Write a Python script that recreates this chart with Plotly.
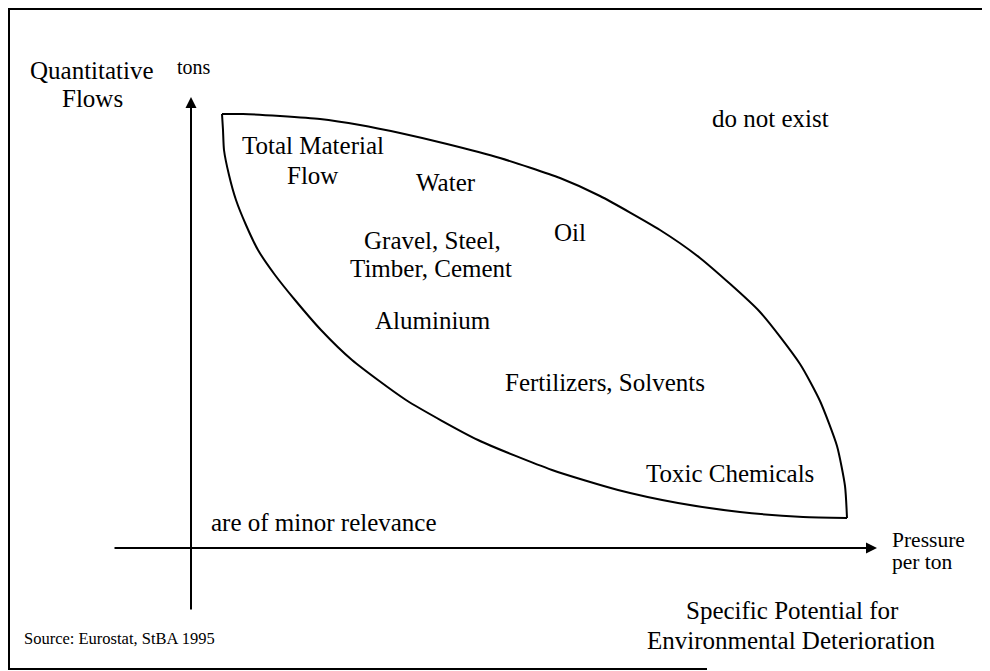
import plotly.graph_objects as go

# Diagram coordinates: origin at the crossing of the two axes,
# x = pressure per ton (rightwards), y = tons (upwards), arbitrary units.

# Upper boundary of the lens-shaped region
upper_x = [31, 52, 89, 129, 169, 209, 256, 309, 369, 409, 469, 509, 569, 609, 629, 646, 654, 656]
upper_y = [434, 434, 432, 429, 423, 415, 404, 390, 370, 352, 318, 290, 236, 184, 147, 102, 62, 30]

# Lower boundary of the lens-shaped region
lower_x = [31, 32, 33, 38, 45, 55, 67, 84, 104, 130, 161, 215, 287, 361, 427, 487, 549, 612, 656]
lower_y = [434, 418, 398, 373, 348, 323, 298, 273, 248, 218, 188, 148, 108, 78, 58, 45, 36, 31, 30]

# Axes (tail -> tip)
yaxis_tail = (0, -63)
yaxis_tip = (0, 451)
xaxis_tail = (-78, 0)
xaxis_tip = (686, 0)

# Outer frame
frame_x = [516, -182, -182, 807]
frame_y = [-121, -121, 539, 539]

# Centred labels
center_labels = ["Quantitative", "Flows", "tons", "do not exist",
                 "Total Material", "Flow", "Water", "Oil",
                 "Gravel, Steel,", "Timber, Cement", "Aluminium",
                 "Fertilizers, Solvents", "Toxic Chemicals",
                 "are of minor relevance",
                 "Specific Potential for", "Environmental Deterioration"]
center_x = [-99, -99, 3, 579, 122, 121, 255, 379, 241, 240, 242, 414, 539, 133, 601, 600]
center_y = [478, 450, 481, 430, 403, 373, 366, 316, 308, 280, 228, 166, 75, 26, -62, -92]
center_size = [25, 25, 20, 25, 25, 25, 25, 25, 25, 25, 25, 25, 25, 25, 25, 25]

# Left-aligned labels
left_labels = ["Pressure", "per ton", "Source: Eurostat, StBA 1995"]
left_x = [699, 699, -169]
left_y = [8, -14, -90]
left_size = [21.5, 21.5, 16.5]

FONT = "Liberation Serif, Times New Roman, serif"

fig = go.Figure()

fig.add_trace(go.Scatter(x=upper_x, y=upper_y, mode="lines",
                         line=dict(color="black", width=2, shape="spline", smoothing=0.6),
                         hoverinfo="skip", showlegend=False))
fig.add_trace(go.Scatter(x=lower_x, y=lower_y, mode="lines",
                         line=dict(color="black", width=2, shape="spline", smoothing=0.6),
                         hoverinfo="skip", showlegend=False))
fig.add_trace(go.Scatter(x=frame_x, y=frame_y, mode="lines",
                         line=dict(color="black", width=2),
                         hoverinfo="skip", showlegend=False))

annotations = []
for tail, tip in [(yaxis_tail, yaxis_tip), (xaxis_tail, xaxis_tip)]:
    annotations.append(dict(x=tip[0], y=tip[1], ax=tail[0], ay=tail[1],
                            xref="x", yref="y", axref="x", ayref="y",
                            text="", showarrow=True, arrowhead=2,
                            arrowsize=1.1, arrowwidth=2, arrowcolor="black"))

for t, x, y, s in zip(center_labels, center_x, center_y, center_size):
    annotations.append(dict(x=x, y=y, xref="x", yref="y", text=t, showarrow=False,
                            xanchor="center", yanchor="middle",
                            font=dict(family=FONT, size=s, color="black")))
for t, x, y, s in zip(left_labels, left_x, left_y, left_size):
    annotations.append(dict(x=x, y=y, xref="x", yref="y", text=t, showarrow=False,
                            xanchor="left", yanchor="middle",
                            font=dict(family=FONT, size=s, color="black")))

# ranges shifted to compensate for the page's 8px body margin
fig.update_layout(
    width=990, height=671, autosize=False,
    margin=dict(l=0, r=0, t=0, b=0),
    paper_bgcolor="white", plot_bgcolor="white",
    xaxis=dict(range=[-183, 807], visible=False, fixedrange=True),
    yaxis=dict(range=[-131, 540], visible=False, fixedrange=True),
    annotations=annotations,
    showlegend=False,
)

fig.write_html("out.html")
